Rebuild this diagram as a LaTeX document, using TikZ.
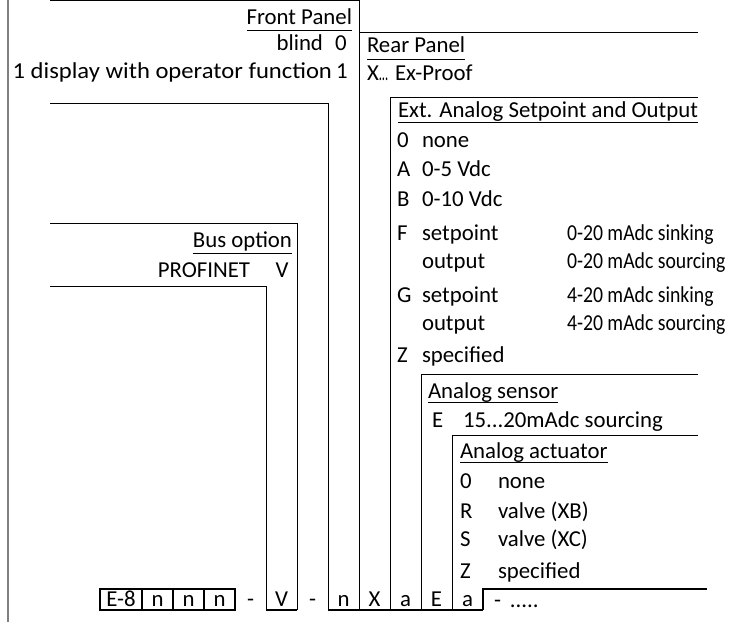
\documentclass[tikz,border=0pt]{standalone}
\usepackage{fontspec}
\setmainfont{Carlito}
\usetikzlibrary{positioning}

\begin{document}
\begin{tikzpicture}[
  x=1bp, y=-1bp,
  node distance=0pt,
  every node/.style={font=\fontsize{22.8bp}{27bp}\selectfont, inner sep=0pt, outer sep=0pt},
  cell/.style={minimum width=31bp, minimum height=21bp,
               text height=14.7bp, text depth=0pt},
  boxcell/.style={cell, draw, line width=1.2bp},
  lbl/.style={anchor=base west},
  rlbl/.style={anchor=base east},
  code/.style={anchor=base},
  frame/.style={line width=0.9bp},
  uline/.style={line width=1bp}]
\useasboundingbox (0,0) rectangle (740,622);
\coordinate (mTop) at (8,0);
\coordinate (mBot) at (8,622);
\draw[gray, line width=1.5bp] (mTop) -- (mBot);

% order code
\node[boxcell, minimum width=42bp] (e8) at (121,599.5) {E-8};
\node[boxcell, right=of e8] (n1) {n};
\node[boxcell, right=of n1] (n2) {n};
\node[boxcell, right=of n2] (n3) {n};
\node[cell, right=of n3] (d1) {-};
\node[cell, right=of d1] (v) {V};
\node[cell, right=of v]  (d2) {-};
\node[cell, right=of d2] (c1) {n};
\node[cell, right=of c1] (c2) {X};
\node[cell, right=of c2] (c3) {a};
\node[cell, right=of c3] (c4) {E};
\node[cell, right=of c4] (c5) {a};
\node[lbl] (tail) at (494,607) {-\hspace{9bp}.....};

% frame corners
\coordinate (fpOut) at (50,0.5);
\coordinate (fpIn)  at (50,103);
\coordinate (rpEnd) at (698,32);
\coordinate (exEnd) at (698,97);
\coordinate (snEnd) at (698,374);
\coordinate (acEnd) at (698,435);
\coordinate (lastEnd) at (707,589);
\coordinate (busOut) at (50,223);
\coordinate (busIn)  at (50,286);

\draw[frame] (fpOut) -| (c1.south east);
\draw[frame] (fpIn) -| (c1.south west);
\draw[frame] (rpEnd) -- (rpEnd -| c1.east);
\draw[frame] (exEnd) -| (c2.south east);
\draw[frame] (snEnd) -| (c3.south east);
\draw[frame] (acEnd) -| (c4.south east);
\draw[line width=1.2bp] (lastEnd) -| (c5.south east);
\draw[line width=1.2bp] (c1.south west) -- (c5.south east);
\draw[frame] (busOut) -| (v.south east);
\draw[frame] (busIn) -| (v.south west);
\draw[line width=1.2bp] (v.south west) -- (v.south east);

% front panel
\node[rlbl] (fpHead) at (352,24.5) {Front Panel};
\draw[uline] ([yshift=-6.5bp]fpHead.base west) -- ([yshift=-6.5bp]fpHead.base east);
\node[rlbl] (fpBlind) at (323,51) {blind};
\node[code] (fp0) at (341,51) {0};
\node[rlbl] (fpDisp) at (332,79) {\scalebox{1.08}[1]{1 display with operator function}};
\node[code] (fp1) at (342,79) {1};

% rear panel
\node[lbl] (rpHead) at (367,53) {Rear Panel};
\draw[uline] ([yshift=-7bp]rpHead.base west) -- ([yshift=-7bp]rpHead.base east);
\node[lbl] (rpX) at (367,81) {X\scalebox{0.55}[1]{...}};
\node[lbl] (rpExp) at (395,81) {Ex-Proof};

% ext. analog setpoint and output
\node[lbl] (exHead) at (398,118) {Ext. Analog Setpoint and Output};
\draw[uline] ([yshift=-5bp]exHead.base west) -- ([yshift=-5bp]exHead.base east);
\foreach \y/\k/\t [count=\i] in {148/0/none, 177/A/0-5 Vdc, 207/B/0-10 Vdc,
    240/F/setpoint, 268//output, 302/G/setpoint, 330//output, 362/Z/specified}{
  \node[lbl] (exK\i) at (397,\y) {\k};
  \node[lbl] (exT\i) at (422,\y) {\t};
}
\foreach \y/\t [count=\i] in {240/0-20 mAdc sinking, 268/0-20 mAdc sourcing,
    302/4-20 mAdc sinking, 330/4-20 mAdc sourcing}
  \node[lbl] (exR\i) at (567,\y) {\scalebox{0.865}[1]{\t}};

% analog sensor
\node[lbl] (snHead) at (428,398) {Analog sensor};
\draw[uline] ([yshift=-4.5bp]snHead.base west) -- ([yshift=-4.5bp]snHead.base east);
\node[lbl] (snK) at (432,427) {E};
\node[lbl] (snT) at (463,427) {15...20mAdc sourcing};

% analog actuator
\node[lbl] (acHead) at (460,458) {Analog actuator};
\draw[uline] ([yshift=-4.5bp]acHead.base west) -- ([yshift=-4.5bp]acHead.base east);
\foreach \y/\k/\t [count=\i] in {488/0/none, 518/R/valve (XB),
    546/S/valve (XC), 578/Z/specified}{
  \node[lbl] (acK\i) at (460,\y) {\k};
  \node[lbl] (acT\i) at (498,\y) {\t};
}

% bus option
\node[rlbl] (busHead) at (292,247) {Bus option};
\draw[uline] ([yshift=-6bp]busHead.base west) -- ([yshift=-6bp]busHead.base east);
\node[rlbl] (busPn) at (250,277) {PROFINET};
\node[code] (busV) at (282,277) {V};
\end{tikzpicture}
\end{document}
